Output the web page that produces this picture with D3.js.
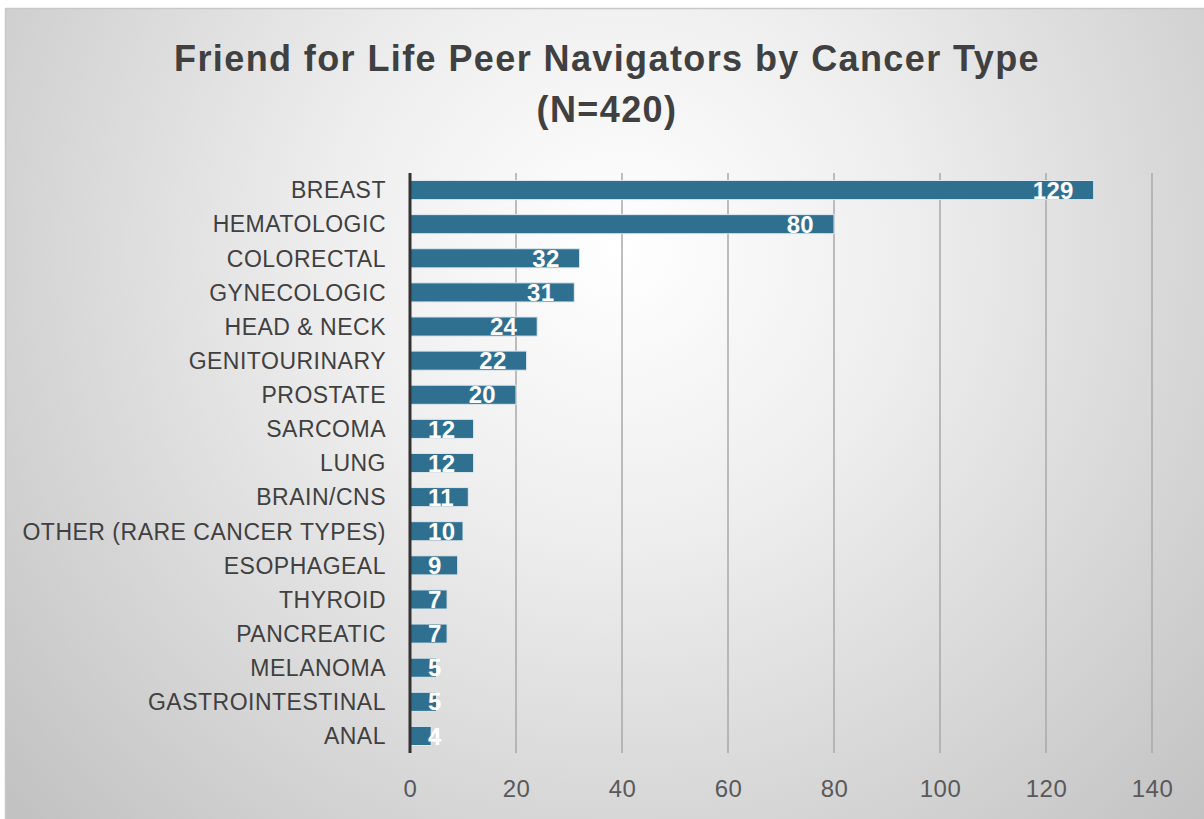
<!DOCTYPE html>
<html><head><meta charset="utf-8">
<script src="https://cdn.jsdelivr.net/npm/d3@7"></script>
<style>html,body{margin:0;padding:0;background:#fff;}svg{display:block;font-family:"Liberation Sans",Arial,sans-serif;}</style>
</head><body><svg id="c" width="1204" height="819"></svg>
<script>
const categories = ["BREAST","HEMATOLOGIC","COLORECTAL","GYNECOLOGIC","HEAD & NECK","GENITOURINARY","PROSTATE","SARCOMA","LUNG","BRAIN/CNS","OTHER (RARE CANCER TYPES)","ESOPHAGEAL","THYROID","PANCREATIC","MELANOMA","GASTROINTESTINAL","ANAL"];
const values = [129,80,32,31,24,22,20,12,12,11,10,9,7,7,5,5,4];
const xTicks = [0,20,40,60,80,100,120,140];
const titleLines = ["Friend for Life Peer Navigators by Cancer Type","(N=420)"];

const svg = d3.select("#c");
const defs = svg.append("defs");
const rg = defs.append("radialGradient").attr("id","bg").attr("gradientUnits","userSpaceOnUse")
  .attr("cx",620).attr("cy",250).attr("r",820);
rg.append("stop").attr("offset","0").attr("stop-color","#ffffff");
rg.append("stop").attr("offset","0.35").attr("stop-color","#eeeeee");
rg.append("stop").attr("offset","1").attr("stop-color","#c2c2c2");
svg.append("rect").attr("x",5).attr("y",8).attr("width",1199).attr("height",811).attr("fill","url(#bg)");
svg.append("line").attr("x1",5).attr("x2",1204).attr("y1",8.5).attr("y2",8.5).attr("stroke","#c8c8c8").attr("stroke-width",1.5);
svg.append("line").attr("x1",5.5).attr("x2",5.5).attr("y1",8).attr("y2",819).attr("stroke","#c8c8c8").attr("stroke-width",1.5);

const x = d3.scaleLinear().domain([0,140]).range([410,1152]);
const y = d3.scaleBand().domain(categories).range([173,753]).paddingInner(0.44).paddingOuter(0.22);

// title
svg.append("g").selectAll("text").data(titleLines).join("text")
  .attr("x",607).attr("y",(d,i)=>71+i*51).attr("text-anchor","middle")
  .attr("font-size",36).attr("letter-spacing",1.4).attr("font-weight","bold").attr("fill","#404040").text(d=>d);

// gridlines
svg.append("g").selectAll("line").data(xTicks.filter(d=>d>0)).join("line")
  .attr("x1",d=>x(d)).attr("x2",d=>x(d)).attr("y1",173).attr("y2",753)
  .attr("stroke","#a8a8a8").attr("stroke-width",1.5);

// x axis tick labels
const xa = svg.append("g").attr("transform","translate(0,753)")
  .call(d3.axisBottom(x).tickValues(xTicks).tickSize(0).tickPadding(0));
xa.select(".domain").remove();
xa.selectAll("text").attr("y",44).attr("dy",0).attr("font-size",24).attr("letter-spacing",0.5).attr("fill","#595959").attr("font-family","Liberation Sans, Arial, sans-serif");

// bars
svg.append("g").selectAll("rect").data(values).join("rect")
  .attr("x",x(0)).attr("y",(d,i)=>y(categories[i]))
  .attr("width",d=>x(d)-x(0)).attr("height",y.bandwidth())
  .attr("fill","#2f7091").attr("stroke","#dfe8ee").attr("stroke-width",1);

// y axis labels
const ya = svg.append("g").attr("transform","translate(410,0)")
  .call(d3.axisLeft(y).tickSize(0).tickPadding(24));
ya.select(".domain").remove();
ya.selectAll("text").attr("font-size",23).attr("letter-spacing",0.5).attr("fill","#404040").attr("dy","0.36em").attr("font-family","Liberation Sans, Arial, sans-serif");

// axis line
svg.append("line").attr("x1",x(0)).attr("x2",x(0)).attr("y1",173).attr("y2",753)
  .attr("stroke","#333333").attr("stroke-width",3);

// value labels
const lbl = svg.append("g").selectAll("text").data(values).join("text")
  .attr("y",(d,i)=>y(categories[i])+y.bandwidth()/2)
  .attr("dy","0.36em").attr("text-anchor","end")
  .attr("font-size",24).attr("letter-spacing",0.3).attr("font-weight","bold").attr("fill","#ffffff").text(d=>d);
lbl.attr("x",function(d){const w=this.getComputedTextLength();return Math.max(x(d)-20,428+w);});
</script></body></html>
